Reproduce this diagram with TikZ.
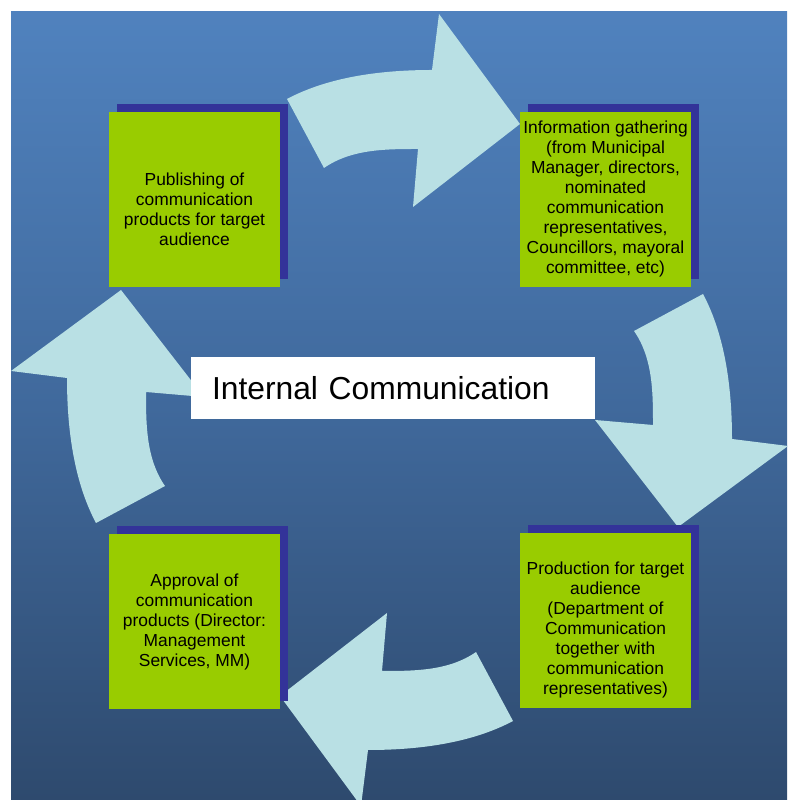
\documentclass[tikz,border=0pt]{standalone}
\usepackage{fontspec}
\setmainfont{Liberation Sans}
\usetikzlibrary{shadows}

\definecolor{bgtop}{RGB}{80,130,190}
\definecolor{bgmid}{RGB}{64,105,156}
\definecolor{bgbot}{RGB}{46,74,110}
\definecolor{cyclecyan}{RGB}{185,224,228}
\definecolor{stagegreen}{RGB}{153,204,0}
\definecolor{shadowblue}{RGB}{51,51,153}

\begin{document}
\begin{tikzpicture}[x=1pt, y=1pt,
		stagebox/.style={fill=stagegreen, minimum width=171pt, minimum height=175pt, inner sep=0pt,
			drop shadow={shadow xshift=8pt, shadow yshift=8pt, fill=shadowblue, opacity=1}},
		stagetext/.style={align=center, inner sep=0pt, font=\fontsize{17.4}{20}\selectfont}]
		\useasboundingbox (0, 0) rectangle (787, 800);
		% Shaded backdrop, white strip along the top and the left.
		\shade[top color=bgtop, bottom color=bgbot, middle color=bgmid] (11, 0) rectangle (787, 788);
		% Four bent arrows, each one set by its tip and its turn.
		\foreach \tx/\ty/\ang in {520/676/0, 678/273/-90, 280/104/180, 121/510/90} {
			\fill[cyclecyan, shift={(\tx, \ty)}, rotate=\ang]
				(-233, 25) .. controls (-190.2, 47.8) and (-136.5, 54) .. (-88, 54)
				-- (-81, 110) -- (0, 0) -- (-107, -83) -- (-102, -25)
				.. controls (-134.8, -25) and (-169.1, -25.2) .. (-196, -44) -- cycle;
		}
		% Stages of the cycle.
		\node[stagebox] (publish) at (194.5, 600.5) {};
		\node[stagetext] (publishtext) at ([yshift=-10pt]publish.center)
			{Publishing of\\communication\\products for target\\audience};
		\node[stagebox] (gather) at (605.5, 600.5) {};
		\node[stagetext] (gathertext) at (gather.center)
			{Information gathering\\(from Municipal\\Manager, directors,\\nominated\\communication\\representatives,\\Councillors, mayoral\\committee, etc)};
		\node[stagebox] (produce) at (605.5, 179.5) {};
		\node[stagetext] (producetext) at ([yshift=-10pt]produce.center)
			{Production for target\\audience\\(Department of\\Communication\\together with\\communication\\representatives)};
		\node[stagebox] (approve) at (194.5, 178.5) {};
		\node[stagetext] (approvetext) at (approve.center)
			{Approval of\\communication\\products (Director:\\Management\\Services, MM)};
		% Title strip in the middle.
		\node[fill=white, minimum width=404pt, minimum height=62pt, text width=362pt, inner xsep=21pt,
			align=left, font=\fontsize{31.8}{38}\selectfont] (hub) at (393, 412) {Internal Communication};
	\end{tikzpicture}
\end{document}
